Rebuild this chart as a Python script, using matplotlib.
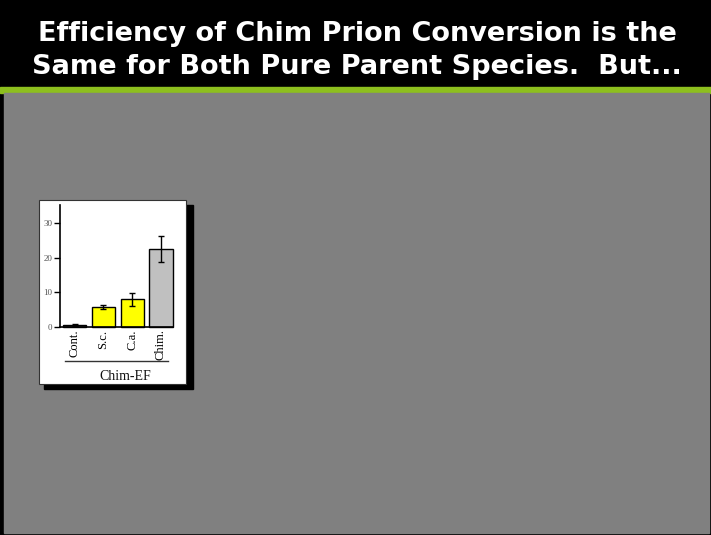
import matplotlib
matplotlib.use("Agg")
import matplotlib.pyplot as plt
from matplotlib.patches import Rectangle

# Conversion efficiency data
categories = ["Cont.", "S.c.", "C.a.", "Chim."]
values = [0.5, 5.6, 7.9, 22.5]
errors = [0.2, 0.6, 1.9, 3.7]
bar_colors = ["#5a5a5a", "#ffff00", "#ffff00", "#c0c0c0"]
yticks = [0, 10, 20, 30]
group_label = "Chim-EF"
title_lines = ["Efficiency of Chim Prion Conversion is the",
               "Same for Both Pure Parent Species.  But..."]

W, H = 711, 535
fig = plt.figure(figsize=(W / 100, H / 100), dpi=100)
fig.patch.set_facecolor("black")

# Slide background in pixel coordinates
bg = fig.add_axes([0, 0, 1, 1])
bg.set_xlim(0, W)
bg.set_ylim(H, 0)
bg.axis("off")
bg.add_patch(Rectangle((0, 0), W, 87, color="black"))
bg.add_patch(Rectangle((0, 87), W, 6, color="#8dbf1e"))
bg.add_patch(Rectangle((4, 93), W - 6, H - 95, color="#808080"))
bg.text(357, 34, title_lines[0], color="white", fontsize=19.5,
        fontweight="bold", ha="center", va="center", family="DejaVu Sans")
bg.text(357, 67, title_lines[1], color="white", fontsize=19.5,
        fontweight="bold", ha="center", va="center", family="DejaVu Sans")

# Card with drop shadow
bg.add_patch(Rectangle((44, 205), 149, 184, color="black"))
bg.add_patch(Rectangle((38.5, 199.5), 147, 184, facecolor="white",
                       edgecolor="#333333", linewidth=0.8))
# Group bracket and label
bg.plot([65, 168], [360.5, 360.5], color="#333333", linewidth=1.0)
bg.text(125, 377, group_label, fontsize=10, family="Liberation Serif",
        ha="center", va="center", color="#111111")

# Bar chart axes
left_px, right_px = 60, 172.5
top_px, zero_px = 205, 326.7
ax = fig.add_axes([left_px / W, (H - zero_px) / H,
                   (right_px - left_px) / W, (zero_px - top_px) / H])
ax.set_facecolor("none")
x = list(range(len(categories)))
bars = ax.bar(x, values, width=0.8, color=bar_colors, edgecolor="black",
              linewidth=1.0, zorder=2)
for b in bars:
    b.set_clip_on(False)
ax.errorbar(x, values, yerr=errors, fmt="none", ecolor="black",
            elinewidth=1.0, capsize=2.5, capthick=1.0, zorder=3)
ax.set_xlim(-0.51, 3.4)
ax.set_ylim(0, 35.3)
ax.set_yticks(yticks)
ax.set_yticklabels([str(t) for t in yticks], fontsize=6.5,
                   family="Liberation Serif", color="#555555")
ax.tick_params(axis="y", length=4, width=1.0, pad=1.5)
ax.set_xticks(x)
ax.set_xticklabels(categories, rotation=90, fontsize=9,
                   family="Liberation Serif", va="top")
ax.tick_params(axis="x", length=0, pad=2)
for s in ("top", "right"):
    ax.spines[s].set_visible(False)
for s in ("left", "bottom"):
    ax.spines[s].set_linewidth(1.2)

fig.savefig("out.png", dpi=100, facecolor=fig.get_facecolor())
